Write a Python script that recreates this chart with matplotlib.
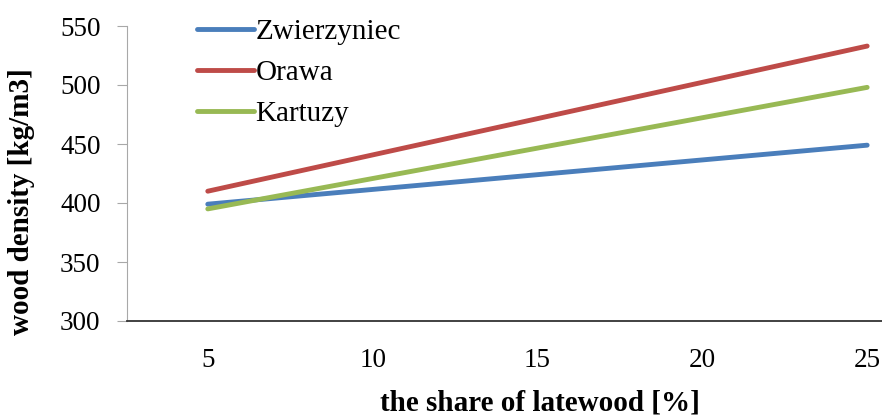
import matplotlib
matplotlib.use("Agg")
import matplotlib.pyplot as plt

share = [5, 25]
zwierzyniec = [399, 449]
orawa = [410, 533]
kartuzy = [395, 498]
series_names = ["Zwierzyniec", "Orawa", "Kartuzy"]
xticks = [5, 10, 15, 20, 25]
yticks = [300, 350, 400, 450, 500, 550]

plt.rcParams['font.family'] = ['Liberation Serif', 'DejaVu Serif']

W, H = 882, 418
fig = plt.figure(figsize=(W / 100, H / 100), dpi=100)
ax = fig.add_axes([127 / W, 1 - 321 / H, 1 - 127 / W, (321 - 26) / H])

colors = ["#4A7EBB", "#BE4B48", "#98B954"]
handles = []
for vals, name, c in zip([zwierzyniec, orawa, kartuzy], series_names, colors):
    h, = ax.plot(share, vals, color=c, lw=3.5, solid_capstyle='round', label=name)
    handles.append(h)

ax.set_xlim(2.55, 25.45)
ax.set_ylim(300, 550)
ax.set_xticks(xticks)
ax.set_yticks(yticks)

for s in ["top", "right"]:
    ax.spines[s].set_visible(False)
ax.spines["left"].set_color("#A8A8A8")
ax.spines["bottom"].set_color("#333333")
ax.spines["bottom"].set_linewidth(1.3)

ax.tick_params(axis='y', length=7, color="#A8A8A8", labelsize=19.5, pad=12)
ax.tick_params(axis='x', length=0, labelsize=19.5, pad=19.5)

fig.text(540 / W, 8 / H, "the share of latewood [%]", fontsize=21, fontweight='bold',
         ha='center', va='baseline')
fig.text(22 / W, 1 - 202 / H, "wood density [kg/m3]", fontsize=21, fontweight='bold',
         ha='center', va='center', rotation=90)

leg = fig.legend(handles=handles, loc='upper left', bbox_to_anchor=(197 / W, 1 - 19 / H),
                 frameon=False, fontsize=21, handlelength=1.95, handletextpad=0.05,
                 labelspacing=0.5, borderpad=0, borderaxespad=0)

fig.savefig("out.png", dpi=100)
